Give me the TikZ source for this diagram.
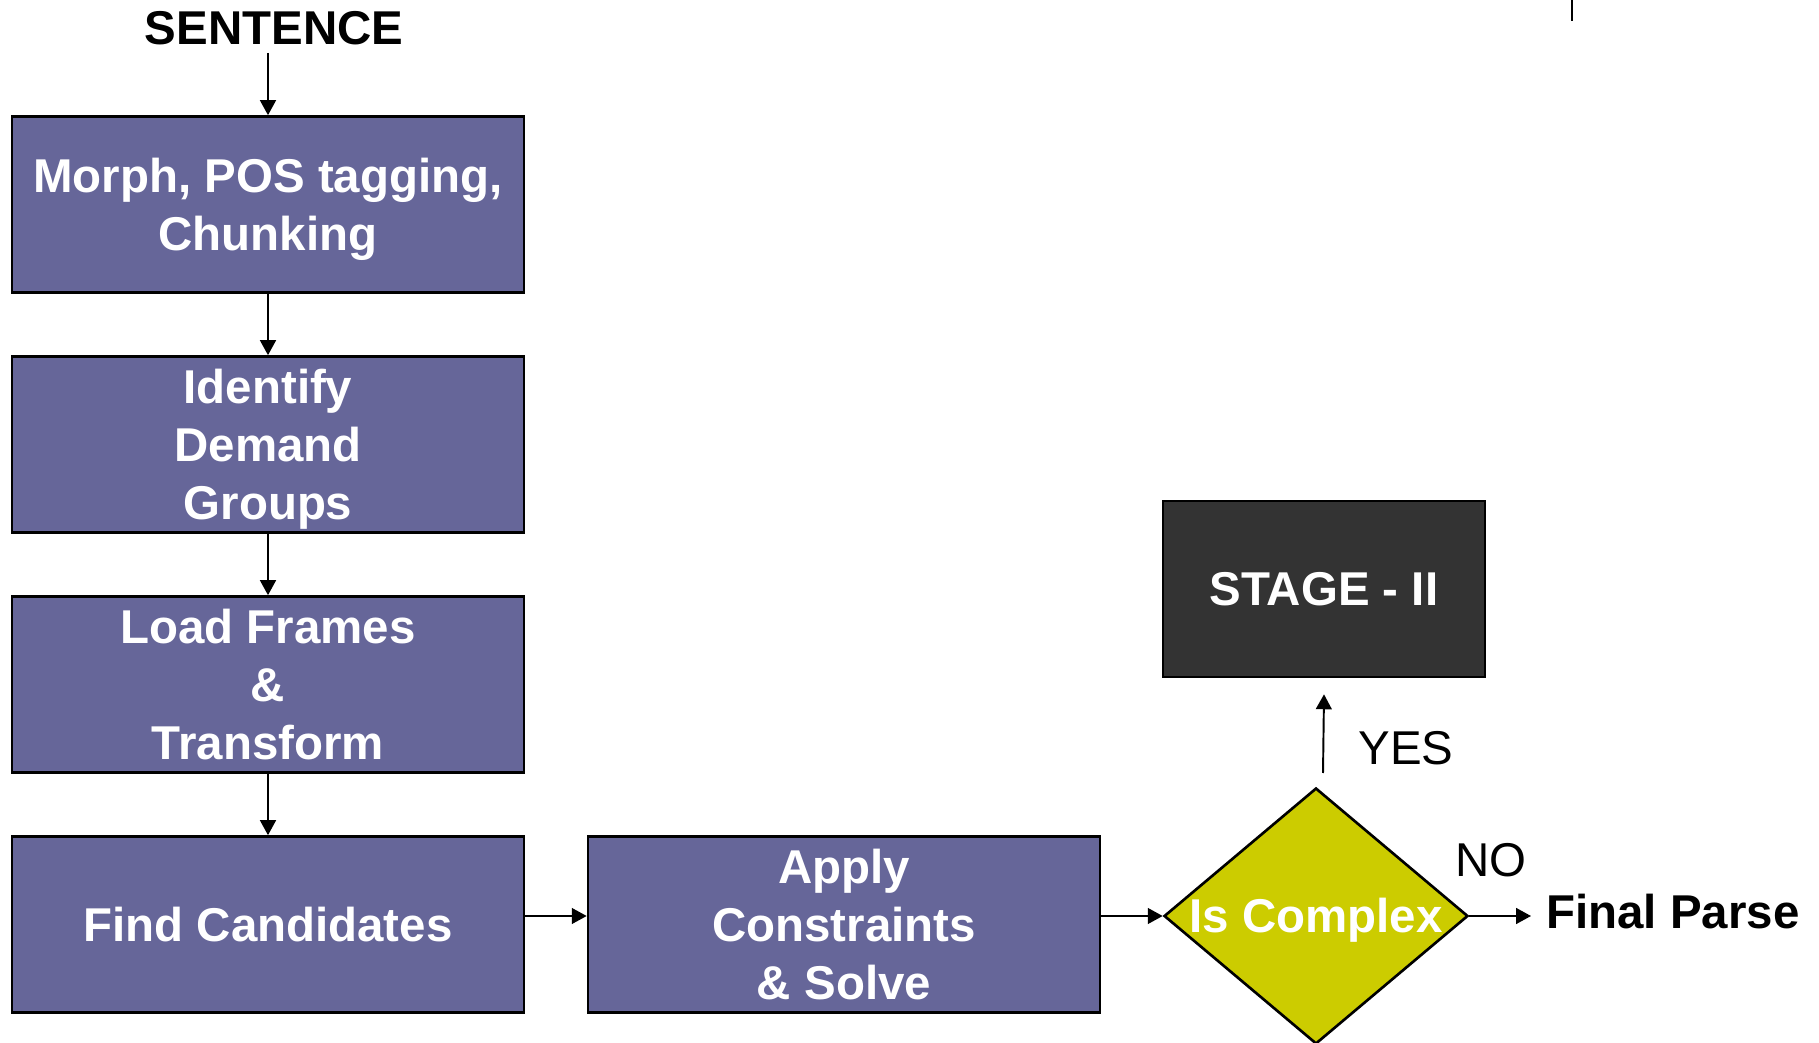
\documentclass[tikz,border=0pt]{standalone}
\usepackage{fontspec}
\setmainfont{Liberation Sans}
\usetikzlibrary{math,shapes.geometric,arrows.meta}

\definecolor{boxpurple}{HTML}{666699}
\definecolor{decisionyellow}{HTML}{CCCC00}
\definecolor{stagegray}{HTML}{333333}

\tikzset{
  bigfont/.style={font=\fontsize{27}{33}\selectfont},
  procbox/.style={draw=black, line width=1.5pt, fill=boxpurple, text=white,
    minimum width=10.24cm, minimum height=3.52cm, align=center, text depth=0pt,
    font=\bfseries\fontsize{27}{33}\selectfont},
  flow/.style={-{Triangle[length=8.5pt,width=9pt]}, line width=1.1pt},
}

\begin{document}
\begin{tikzpicture}
  \useasboundingbox (0,0) rectangle (36.38,20.84);
  % 使用 tikzmath 计算方框位置
  \tikzmath{
    % 左列中心 x, 竖直间距, 第一个方框的 y
    \bx = 5.36; \dy = 4.8; \ya = 16.75;
  }

  % 左列流程
  \node[bigfont, font=\bfseries\fontsize{27}{33}\selectfont] (sent) at (5.48,20.28) {SENTENCE};
  \coordinate (in) at (\bx,19.78);
  \node[procbox] (morph) at (\bx,\ya) {Morph, POS tagging,\\Chunking};
  \node[procbox] (dg) at (\bx,\ya-\dy) {Identify\\Demand\\Groups};
  \node[procbox] (frames) at (\bx,\ya-2*\dy) {Load Frames\\\&\\Transform};
  \node[procbox] (cand) at (\bx,\ya-3*\dy) {Find Candidates};
  \node[procbox] (solve) at (16.88,\ya-3*\dy) {Apply\\Constraints\\\& Solve};

  % 判断和第二阶段
  \node[diamond, draw, line width=1.5pt, fill=decisionyellow, inner sep=0pt,
    minimum width=6.08cm, minimum height=5.12cm,
    label={[text=white, yshift=-0.09cm, font=\bfseries\fontsize{27}{33}\selectfont]center:Is Complex}] (cplx) at (26.32,2.52) {};
  \node[procbox, fill=stagegray, minimum width=6.44cm] (stage) at (26.48,9.06) {STAGE - II};
  \coordinate (yes) at (26.46,5.38);
  \node[bigfont] (yeslbl) at (28.12,5.88) {YES};
  \node[bigfont] (nolbl) at (29.82,3.64) {NO};
  \node[anchor=west, inner sep=0.3cm, font=\bfseries\fontsize{27}{33}\selectfont] (parse) at (30.62,2.6) {Final Parse};

  % 箭头
  \draw[flow] (in) -- (morph);
  \draw[flow] (morph) -- (dg);
  \draw[flow] (dg) -- (frames);
  \draw[flow] (frames) -- (cand);
  \draw[flow] (cand.east |- cplx) -- (solve.west |- cplx);
  \draw[flow] (solve.east |- cplx) -- (cplx.west);
  \draw[flow] (yes) -- ([yshift=-0.32cm]stage.south);
  \draw[flow] (cplx.east) -- (parse.west |- cplx.east);

  % 右上角的短线
  \coordinate (tickA) at (31.44,20.84);
  \coordinate (tickB) at (31.44,20.42);
  \draw[line width=1.5pt] (tickA) -- (tickB);
\end{tikzpicture}
\end{document}
